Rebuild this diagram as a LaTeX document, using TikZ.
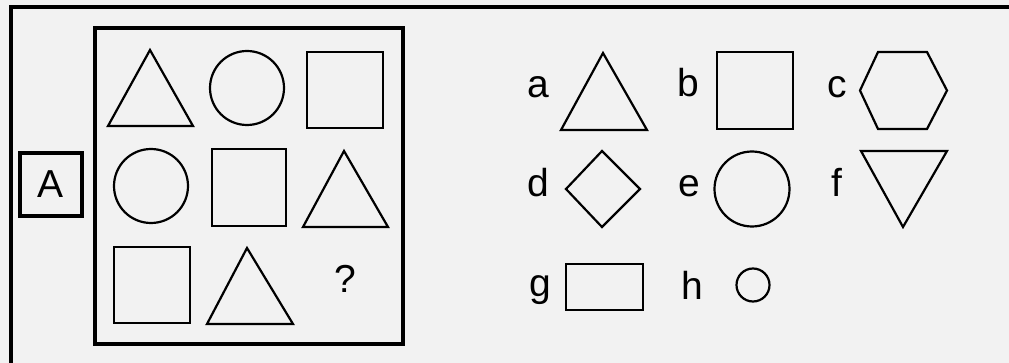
\documentclass[tikz,border=0pt]{standalone}
\usepackage{fontspec}
\setmainfont{Liberation Sans}
\begin{document}
\begin{tikzpicture}[x=1pt,y=-1pt,
  shp/.style={line width=2.2pt, line join=miter},
  frame/.style={line width=3.2pt},
  lbl/.style={font=\fontsize{39}{44}\selectfont, inner sep=0pt, anchor=base}]
\fill[black!5] (0,0) rectangle (1009,363);
\useasboundingbox (0,0) rectangle (1009,363);
% outer frame (top and left only)
\draw[frame] (11,363) -- (11,7) -- (1009,7);
% inner matrix frame
\draw[frame] (95,28) rectangle (403,344);
% A box
\draw[frame] (20,153) rectangle (82,216);
\node[lbl] (lA) at (51,198) {A};
% matrix row 1
\draw[shp] (150,50) -- (193,126) -- (108,126) -- cycle;
\draw[shp] (247,88) circle[radius=37];
\draw[shp] (307,52) rectangle (383,128);
% row 2
\draw[shp] (151,186) circle[radius=37];
\draw[shp] (212,149) rectangle (286,226);
\draw[shp] (344,151) -- (388,227) -- (303,227) -- cycle;
% row 3
\draw[shp] (114,247) rectangle (190,323);
\draw[shp] (247,248) -- (293,324) -- (207,324) -- cycle;
\node[lbl] (q) at (345,293) {?};
% answers
\node[lbl] (la) at (538,98) {a};
\draw[shp] (603,53) -- (647,130) -- (561,130) -- cycle;
\node[lbl] (lb) at (688,97) {b};
\draw[shp] (717,52) rectangle (793,129);
\node[lbl] (lc) at (837,98) {c};
\draw[shp] (860,90.5) -- (878,52) -- (927,52) -- (947,90.5) -- (927,129) -- (878,129) -- cycle;
\node[lbl] (ld) at (538,197) {d};
\draw[shp] (566,189) -- (602,151) -- (640,189) -- (602,227) -- cycle;
\node[lbl] (le) at (689,197) {e};
\draw[shp] (752,189) circle[radius=37.5];
\node[lbl] (lf) at (837,197) {f};
\draw[shp] (861,151) -- (947,151) -- (903,227) -- cycle;
\node[lbl] (lg) at (540,297) {g};
\draw[shp] (566,264) rectangle (643,310);
\node[lbl] (lh) at (692,300) {h};
\draw[shp] (753,285) circle[radius=16.5];
\end{tikzpicture}
\end{document}
